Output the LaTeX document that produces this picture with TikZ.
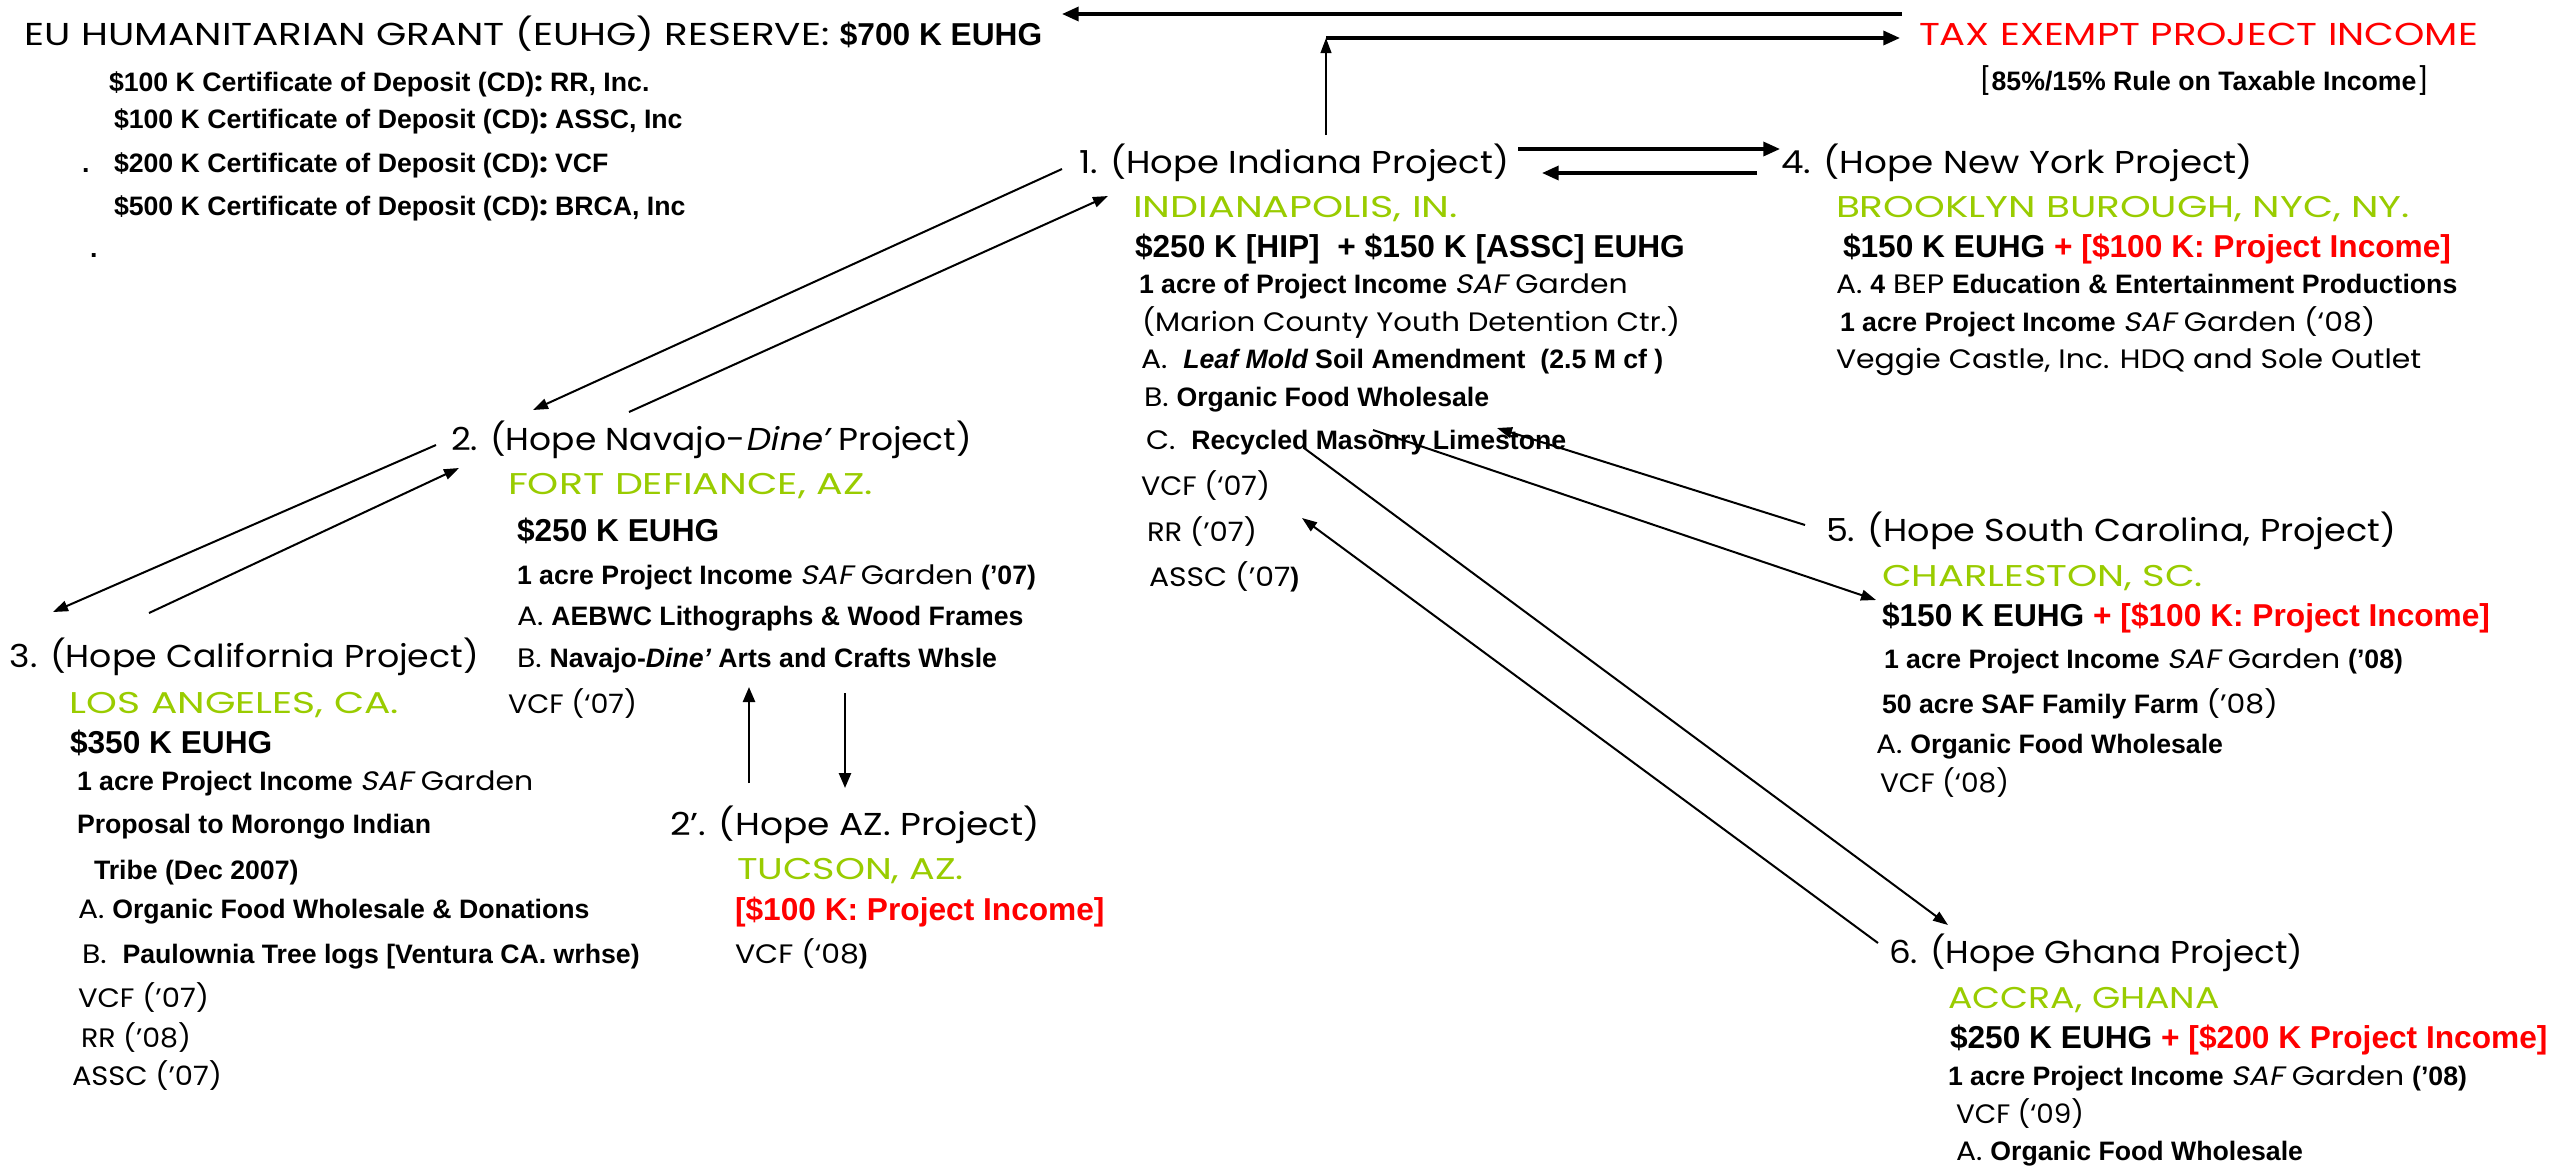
\documentclass[tikz,border=0pt]{standalone}
\usepackage{fontspec}
\usepackage{graphicx}
\usetikzlibrary{arrows.meta}
\setmainfont{Poppins}
\newfontfamily\cgfont[FakeStretch=1.12]{Poppins}
\newfontfamily\cgcaps[FakeStretch=1.23]{Poppins}
\newfontfamily\cgcity[FakeStretch=1.3]{Poppins}
\newfontfamily\cgslant[FakeSlant=0.2,FakeStretch=1.12]{Poppins}
\newfontfamily\arfont{Liberation Sans}
\definecolor{cityg}{RGB}{153,204,0}
\definecolor{incred}{RGB}{255,0,0}
\newcommand\FHead{\cgfont\fontsize{9.5}{10}\selectfont}
\newcommand\FCaps{\cgcaps\fontsize{9.5}{10}\selectfont}
\newcommand\FHeadIt{\cgslant\fontsize{9.5}{10}\selectfont}
\newcommand\FCity{\color{cityg}\cgcity\fontsize{9}{10}\selectfont}
\newcommand\FReg{\cgfont\fontsize{8}{9}\selectfont}
\newcommand\FIt{\cgslant\fontsize{8}{9}\selectfont}
\newcommand\FBold{\arfont\bfseries\fontsize{8}{9}\selectfont}
\newcommand\FBoldIt{\arfont\bfseries\itshape\fontsize{8}{9}\selectfont}
\newcommand\FBig{\arfont\bfseries\fontsize{9.5}{10}\selectfont}
\newcommand\FRed{\color{incred}\arfont\bfseries\fontsize{9.5}{10}\selectfont}
% fit a text to a width given in reference pixels (1px = 0.3pt)
\newcommand\fitw[2]{\resizebox{\dimexpr #1pt*3/10\relax}{\height}{#2}}
\begin{document}
\begin{tikzpicture}[x=0.3pt,y=-0.3pt,
  txt/.style={anchor=base west,inner sep=0pt,outer sep=0pt},
  arr/.style={-{Triangle[length=4.5pt,width=3.2pt]},line width=0.6pt},
  arrv/.style={-{Triangle[length=4.5pt,width=3.6pt]},line width=0.75pt},
  arrk/.style={-{Triangle[length=5pt,width=4.2pt]},line width=1pt}]
\fill[white] (0,0) rectangle (2575,1165);
\useasboundingbox (0,0) rectangle (2575,1165);

% ---- reserve block
\node[txt] (eu) at (25,45) {\FCaps EU HUMANITARIAN GRANT (EUHG) RESERVE: {\FBig \$700 K EUHG}};
\node[txt] (cd1) at (109,91) {\FBold \$100 K Certificate of Deposit (CD){\FReg :}\ RR, Inc.};
\node[txt] (cd2) at (114,128) {\FBold \$100 K Certificate of Deposit (CD){\FReg :}\ ASSC, Inc};
\node[txt] (cdd) at (82,172) {\FBold .};
\node[txt] (cd3) at (114,172) {\FBold \$200 K Certificate of Deposit (CD){\FReg :}\ VCF};
\node[txt] (cd4) at (114,215) {\FBold \$500 K Certificate of Deposit (CD){\FReg :}\ BRCA, Inc};
\node[txt] (cde) at (90,257) {\FBold .};

% ---- tax
\node[txt] (tax) at (1919,45) {\fitw{559}{\FCaps\color{incred}TAX EXEMPT PROJECT INCOME}};
\node[txt] (rule) at (1979,90) {\FReg [{\FBold 85\%/15\% Rule on Taxable Income}]};

% ---- node 1
\node[txt] (n1h) at (1079,173) {\fitw{430}{\FHead 1. (Hope Indiana Project)}};
\node[txt] (n1c) at (1133,217) {\fitw{325}{\FCity INDIANAPOLIS, IN.}};
\node[txt] (n1a) at (1135,257) {\FBig \$250 K [HIP]\ \ + \$150 K [ASSC] EUHG};
\node[txt] (n1b) at (1139,293) {{\FBold 1 acre of Project Income }{\FIt SAF}{\FReg\ Garden}};
\node[txt] (n1d) at (1142,331) {\fitw{538}{\FReg (Marion County Youth Detention Ctr.)}};
\node[txt] (n1e) at (1141,368) {{\FReg A.\ \ }{\FBoldIt Leaf Mold}{\FBold\ Soil Amendment\ \ (2.5 M cf )}};
\node[txt] (n1f) at (1144,406) {{\FReg B.\ }{\FBold Organic Food Wholesale}};
\node[txt] (n1g) at (1146,449) {{\FReg C.\ \ }{\FBold Recycled Masonry Limestone}};
\node[txt] (n1i) at (1141,495) {\fitw{129}{\FReg VCF (‘07)}};
\node[txt] (n1j) at (1147,541) {\fitw{110}{\FReg RR (’07)}};
\node[txt] (n1k) at (1149,586) {{\FReg ASSC (’07}{\FBold )}};

% ---- node 4
\node[txt] (n4h) at (1781,173) {\fitw{472}{\FHead 4. (Hope New York Project)}};
\node[txt] (n4c) at (1836,217) {\fitw{574}{\FCity BROOKLYN BUROUGH, NYC, NY.}};
\node[txt] (n4a) at (1843,257) {{\FBig \$150 K EUHG}{\FRed\ + [\$100 K: Project Income]}};
\node[txt] (n4b) at (1836,293) {{\FReg A.\ }{\FBold 4}{\FReg\ BEP }{\FBold Education \& Entertainment Productions}};
\node[txt] (n4d) at (1840,331) {{\FBold 1 acre Project Income }{\FIt SAF}{\FReg\ Garden (‘08)}};
\node[txt] (n4e) at (1836,368) {\FReg Veggie Castle, Inc. HDQ and Sole Outlet};

% ---- node 2
\node[txt] (n2h) at (451,450) {\fitw{521}{\FHead 2. (Hope Navajo-{\FHeadIt Dine’} Project)}};
\node[txt] (n2c) at (508,494) {\fitw{365}{\FCity FORT DEFIANCE, AZ.}};
\node[txt] (n2a) at (517,541) {\FBig \$250 K EUHG};
\node[txt] (n2b) at (517,584) {{\FBold 1 acre Project Income }{\FIt SAF}{\FReg\ Garden }{\FBold (’07)}};
\node[txt] (n2d) at (517,625) {{\FReg A.\ }{\FBold AEBWC Lithographs \& Wood Frames}};
\node[txt] (n2e) at (517,667) {{\FReg B.\ }{\FBold Navajo-}{\FBoldIt Dine’}{\FBold\ Arts and Crafts Whsle}};
\node[txt] (n2f) at (508,713) {\fitw{129}{\FReg VCF (‘07)}};

% ---- node 3
\node[txt] (n3h) at (10,667) {\fitw{469}{\FHead 3. (Hope California Project)}};
\node[txt] (n3c) at (70,713) {\fitw{329}{\FCity LOS ANGELES, CA.}};
\node[txt] (n3a) at (70,753) {\FBig \$350 K EUHG};
\node[txt] (n3b) at (77,790) {{\FBold 1 acre Project Income }{\FIt SAF}{\FReg\ Garden}};
\node[txt] (n3d) at (77,833) {\FBold Proposal to Morongo Indian};
\node[txt] (n3e) at (94,879) {\FBold Tribe (Dec 2007)};
\node[txt] (n3f) at (78,918) {{\FReg A.\ }{\FBold Organic Food Wholesale \& Donations}};
\node[txt] (n3g) at (82,963) {{\FReg B.\ \ }{\FBold Paulownia Tree logs [Ventura CA. wrhse)}};
\node[txt] (n3i) at (78,1007) {\fitw{131}{\FReg VCF (’07)}};
\node[txt] (n3j) at (81,1047) {\fitw{110}{\FReg RR (’08)}};
\node[txt] (n3k) at (72,1085) {\fitw{150}{\FReg ASSC (’07)}};

% ---- node 2'
\node[txt] (n2ph) at (670,835) {\fitw{370}{\FHead 2’. (Hope AZ. Project)}};
\node[txt] (n2pc) at (737,879) {\fitw{227}{\FCity TUCSON, AZ.}};
\node[txt] (n2pa) at (735,920) {\FRed [\$100 K: Project Income]};
\node[txt] (n2pb) at (735,963) {{\FReg VCF (‘08}{\FBold )}};

% ---- node 5
\node[txt] (n5h) at (1826,541) {\fitw{570}{\FHead 5. (Hope South Carolina, Project)}};
\node[txt] (n5c) at (1882,586) {\fitw{321}{\FCity CHARLESTON, SC.}};
\node[txt] (n5a) at (1882,626) {{\FBig \$150 K EUHG}{\FRed\ + [\$100 K: Project Income]}};
\node[txt] (n5b) at (1884,668) {{\FBold 1 acre Project Income }{\FIt SAF}{\FReg\ Garden }{\FBold (’08)}};
\node[txt] (n5d) at (1882,713) {{\FBold 50 acre SAF Family Farm }{\FReg (’08)}};
\node[txt] (n5e) at (1876,753) {{\FReg A.\ }{\FBold Organic Food Wholesale}};
\node[txt] (n5f) at (1880,792) {\fitw{129}{\FReg VCF (‘08)}};

% ---- node 6
\node[txt] (n6h) at (1889,963) {\fitw{414}{\FHead 6. (Hope Ghana Project)}};
\node[txt] (n6c) at (1948,1008) {\fitw{272}{\FCity ACCRA, GHANA}};
\node[txt] (n6a) at (1950,1048) {{\FBig \$250 K EUHG}{\FRed\ + [\$200 K Project Income]}};
\node[txt] (n6b) at (1948,1085) {{\FBold 1 acre Project Income }{\FIt SAF}{\FReg\ Garden }{\FBold (’08)}};
\node[txt] (n6d) at (1956,1123) {\fitw{128}{\FReg VCF (‘09)}};
\node[txt] (n6e) at (1956,1160) {{\FReg A.\ }{\FBold Organic Food Wholesale}};

% ---- connector end points
\coordinate (c12s) at (1062,169); \coordinate (c12e) at (533,410);
\coordinate (c21s) at (629,412);  \coordinate (c21e) at (1108,196);
\coordinate (c23s) at (436,445);  \coordinate (c23e) at (53,612);
\coordinate (c32s) at (149,613);  \coordinate (c32e) at (459,468);
\coordinate (c22s) at (749,783);  \coordinate (c22e) at (749,687);
\coordinate (c2ps) at (845,693);  \coordinate (c2pe) at (845,788);
\coordinate (c14s) at (1518,149); \coordinate (c14e) at (1780,149);
\coordinate (c41s) at (1757,173); \coordinate (c41e) at (1542,173);
\coordinate (c1ts) at (1326,135); \coordinate (c1tc) at (1326,38); \coordinate (c1te) at (1900,38);
\coordinate (ctes) at (1902,14);  \coordinate (ctee) at (1062,14);
\coordinate (c51s) at (1805,525); \coordinate (c51e) at (1497,428);
\coordinate (c15s) at (1373,430); \coordinate (c15e) at (1876,600);
\coordinate (c16s) at (1304,448); \coordinate (c16e) at (1948,925);
\coordinate (c61s) at (1878,943); \coordinate (c61e) at (1302,518);

% ---- connectors
\draw[arr] (c12s) -- (c12e);
\draw[arr] (c21s) -- (c21e);
\draw[arr] (c23s) -- (c23e);
\draw[arr] (c32s) -- (c32e);
\draw[arrv] (c22s) -- (c22e);
\draw[arrv] (c2ps) -- (c2pe);
\draw[arrk] (c14s) -- (c14e);
\draw[arrk] (c41s) -- (c41e);
\draw[arr] (c1ts) -- (c1tc);
\draw[arrk] (c1tc) -- (c1te);
\draw[arrk] (ctes) -- (ctee);
\draw[arr] (c51s) -- (c51e);
\draw[arr] (c15s) -- (c15e);
\draw[arr] (c16s) -- (c16e);
\draw[arr] (c61s) -- (c61e);
\end{tikzpicture}
\end{document}
